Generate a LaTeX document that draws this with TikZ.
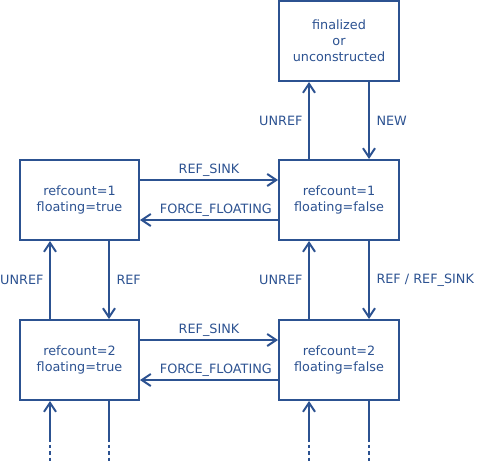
\documentclass[tikz,border=0pt]{standalone}
\usepackage{fontspec}
\setmainfont{DejaVu Sans}
\usetikzlibrary{arrows.meta}

\definecolor{stateblue}{RGB}{44,82,145}

\tikzset{
	statebox/.style={draw, line width=2pt, rectangle, align=center, minimum width=120pt, minimum height=80pt},
	arr/.style={-{Straight Barb[length=9pt, width=12pt, line width=2pt]}, line width=2pt},
	tail/.style={line width=2pt, dash pattern=on 3.5pt off 3pt},
	lbl/.style={inner sep=2.5pt},
}

\begin{document}
\begin{tikzpicture}[x=1pt, y=-1pt, color=stateblue, font=\fontsize{12.8}{16}\selectfont]

	\useasboundingbox (0,0) rectangle (478,463);

	%% The top state
	\begin{scope}[every node/.style={statebox}]
		\node at (339,41) (1-2) {finalized\\or\\unconstructed};
	\end{scope}

	%% The first row
	\begin{scope}[every node/.style={statebox}]
		\node[minimum width=119pt] at (79.5,200) (2-1) {refcount=1\\floating=true};
		\node at (339,200) (2-2) {refcount=1\\floating=false};
	\end{scope}

	%% The second row
	\begin{scope}[every node/.style={statebox}]
		\node[minimum width=119pt] at (79.5,360) (3-1) {refcount=2\\floating=true};
		\node at (339,360) (3-2) {refcount=2\\floating=false};
	\end{scope}

	%% The loose ends below
	\coordinate (4-1) at (50,438);
	\coordinate (4-2) at (109,438);
	\coordinate (4-3) at (309,438);
	\coordinate (4-4) at (369,438);
	\coordinate (5-1) at (50,463);
	\coordinate (5-2) at (109,463);
	\coordinate (5-3) at (309,463);
	\coordinate (5-4) at (369,463);

	%% Up and down
	\draw[arr] ([xshift=-30pt]2-2.north) -- ([xshift=-30pt]1-2.south) node[midway, left, lbl, xshift=-3pt] {UNREF};
	\draw[arr] ([xshift=30pt]1-2.south) -- ([xshift=30pt]2-2.north) node[midway, right, lbl, xshift=4pt] {NEW};

	\draw[arr] ([xshift=-29.5pt]3-1.north) -- ([xshift=-29.5pt]2-1.south) node[midway, left, lbl, xshift=-3pt] {UNREF};
	\draw[arr] ([xshift=29.5pt]2-1.south) -- ([xshift=29.5pt]3-1.north) node[midway, right, lbl, xshift=4pt] {REF};
	\draw[arr] ([xshift=-30pt]3-2.north) -- ([xshift=-30pt]2-2.south) node[midway, left, lbl, xshift=-3pt] {UNREF};
	\draw[arr] ([xshift=30pt]2-2.south) -- ([xshift=30pt]3-2.north) node[midway, right, lbl, xshift=4pt] {REF / REF\_SINK};

	%% Across
	\draw[arr] ([yshift=20pt]2-1.east) -- ([yshift=20pt]2-2.west) node[midway, above, lbl] {REF\_SINK};
	\draw[arr] ([yshift=-20pt]2-2.west) -- ([yshift=-20pt]2-1.east) node[pos=0.45, above, lbl] {FORCE\_FLOATING};
	\draw[arr] ([yshift=20pt]3-1.east) -- ([yshift=20pt]3-2.west) node[midway, above, lbl] {REF\_SINK};
	\draw[arr] ([yshift=-20pt]3-2.west) -- ([yshift=-20pt]3-1.east) node[pos=0.45, above, lbl] {FORCE\_FLOATING};

	%% Out of the bottom row
	\draw[arr] (4-1) -- (4-1 |- 3-1.south);
	\draw[line width=2pt] (4-2 |- 3-1.south) -- (4-2);
	\draw[arr] (4-3) -- (4-3 |- 3-2.south);
	\draw[line width=2pt] (4-4 |- 3-2.south) -- (4-4);
	\draw[tail] (4-1) -- (5-1);
	\draw[tail] (4-2) -- (5-2);
	\draw[tail] (4-3) -- (5-3);
	\draw[tail] (4-4) -- (5-4);

\end{tikzpicture}
\end{document}
